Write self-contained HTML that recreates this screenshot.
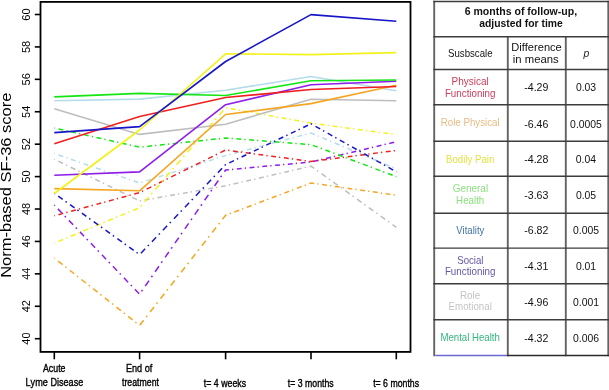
<!DOCTYPE html>
<html><head><meta charset="utf-8"><title>SF-36 chart</title>
<style>html,body{margin:0;padding:0;background:#fff;width:609px;height:390px;overflow:hidden}svg{display:block;will-change:transform}text{font-family:"Liberation Sans", sans-serif;font-kerning:none}</style>
</head><body>
<svg width="609" height="390" viewBox="0 0 609 390">
<rect x="0" y="0" width="609" height="390" fill="#fff"/>
<g fill="none" stroke-linejoin="round">
<path d="M54.30 159.20 L54.92 159.50 M58.36 161.19 L63.04 163.48 M65.99 164.93 L67.22 165.53 M70.67 167.22 L75.34 169.51 M78.30 170.96 L79.53 171.56 M82.98 173.25 L87.65 175.54 M90.61 176.99 L91.84 177.59 M95.28 179.28 L99.96 181.57 M102.91 183.02 L104.14 183.62 M107.59 185.31 L112.27 187.61 M115.22 189.05 L116.45 189.66 M119.90 191.34 L124.57 193.64 M127.53 195.08 L128.76 195.69 M132.20 197.38 L136.88 199.67 M139.84 200.96 L141.11 200.73 M144.67 200.10 L149.50 199.25 M152.55 198.71 L153.82 198.49 M157.38 197.86 L162.20 197.00 M165.25 196.47 L166.53 196.24 M170.08 195.61 L174.91 194.76 M177.96 194.22 L179.23 194.00 M182.79 193.37 L187.62 192.51 M190.67 191.97 L191.94 191.75 M195.50 191.12 L200.33 190.27 M203.37 189.73 L204.65 189.50 M208.20 188.87 L213.03 188.02 M216.08 187.48 L217.35 187.26 M220.91 186.63 L225.60 185.80 L225.74 185.77 M228.78 185.07 L230.04 184.78 M233.59 183.97 L238.40 182.86 M241.44 182.16 L242.71 181.87 M246.25 181.06 L251.07 179.96 M254.11 179.26 L255.37 178.97 M258.92 178.15 L263.73 177.05 M266.77 176.35 L268.04 176.06 M271.58 175.25 L276.39 174.14 M279.43 173.44 L280.70 173.15 M284.25 172.34 L289.06 171.24 M292.10 170.54 L293.36 170.25 M296.91 169.43 L301.72 168.33 M304.76 167.63 L306.03 167.34 M309.57 166.53 L311.00 166.20 L314.16 168.47 M317.01 170.50 L318.19 171.35 M321.50 173.72 L326.00 176.95 M328.84 178.98 L330.03 179.83 M333.34 182.20 L337.84 185.42 M340.68 187.46 L341.86 188.31 M345.18 190.68 L349.68 193.90 M352.52 195.94 L353.70 196.79 M357.02 199.16 L361.51 202.38 M364.35 204.42 L365.54 205.27 M368.85 207.64 L373.35 210.86 M376.19 212.90 L377.38 213.74 M380.69 216.12 L385.19 219.34 M388.03 221.38 L389.21 222.22 M392.53 224.60 L396.30 227.30" stroke="#bebebe" stroke-width="1.5"/>
<path d="M54.30 153.50 L54.93 153.72 M58.44 154.93 L63.20 156.58 M66.21 157.62 L67.46 158.05 M70.97 159.26 L75.73 160.91 M78.74 161.95 L79.99 162.39 M83.50 163.60 L88.26 165.25 M91.27 166.29 L92.53 166.72 M96.03 167.93 L100.80 169.58 M103.81 170.62 L105.06 171.05 M108.57 172.27 L113.33 173.91 M116.34 174.96 L117.59 175.39 M121.10 176.60 L125.86 178.25 M128.87 179.29 L130.12 179.72 M133.63 180.94 L138.40 182.58 M141.41 182.42 L142.67 182.02 M146.18 180.90 L150.96 179.38 M153.98 178.42 L155.23 178.02 M158.75 176.90 L163.53 175.38 M166.54 174.42 L167.80 174.01 M171.32 172.89 L176.10 171.37 M179.11 170.41 L180.37 170.01 M183.89 168.89 L188.66 167.37 M191.68 166.41 L192.94 166.01 M196.46 164.89 L201.23 163.36 M204.25 162.40 L205.51 162.00 M209.02 160.88 L213.80 159.36 M216.82 158.40 L218.07 158.00 M221.59 156.88 L225.60 155.60 L226.37 155.40 M229.40 154.59 L230.67 154.26 M234.20 153.32 L239.00 152.05 M242.03 151.25 L243.30 150.92 M246.83 149.98 L251.63 148.71 M254.66 147.91 L255.93 147.57 M259.46 146.64 L264.26 145.37 M267.29 144.57 L268.56 144.23 M272.09 143.30 L276.89 142.03 M279.92 141.22 L281.18 140.89 M284.72 139.95 L289.52 138.68 M292.55 137.88 L293.81 137.55 M297.35 136.61 L302.15 135.34 M305.18 134.54 L306.44 134.21 M309.98 133.27 L311.00 133.00 L314.72 134.56 M317.70 135.82 L318.94 136.34 M322.42 137.81 L327.14 139.79 M330.12 141.05 L331.37 141.57 M334.84 143.04 L339.56 145.02 M342.55 146.28 L343.79 146.80 M347.27 148.26 L351.99 150.25 M354.97 151.51 L356.21 152.03 M359.69 153.49 L364.41 155.48 M367.39 156.73 L368.64 157.26 M372.11 158.72 L376.84 160.71 M379.82 161.96 L381.06 162.49 M384.54 163.95 L389.26 165.94 M392.24 167.19 L393.48 167.71" stroke="#b4dcea" stroke-width="1.5"/>
<path d="M54.30 258.00 L54.88 258.46 M58.15 261.04 L62.58 264.54 M65.38 266.75 L66.54 267.67 M69.81 270.25 L74.24 273.76 M77.04 275.97 L78.20 276.89 M81.47 279.47 L85.90 282.97 M88.70 285.18 L89.86 286.10 M93.13 288.68 L97.56 292.18 M100.36 294.39 L101.53 295.32 M104.79 297.90 L109.22 301.40 M112.02 303.61 L113.19 304.53 M116.45 307.11 L120.88 310.61 M123.68 312.82 L124.85 313.74 M128.11 316.32 L132.54 319.82 M135.34 322.03 L136.51 322.96 M139.75 325.20 L143.68 320.17 M146.17 316.99 L147.20 315.67 M150.10 311.96 L154.03 306.92 M156.51 303.75 L157.55 302.42 M160.45 298.71 L164.38 293.68 M166.86 290.50 L167.90 289.18 M170.79 285.47 L174.72 280.43 M177.21 277.25 L178.24 275.93 M181.14 272.22 L185.07 267.19 M187.55 264.01 L188.59 262.68 M191.49 258.97 L195.42 253.94 M197.90 250.76 L198.94 249.44 M201.83 245.73 L205.76 240.69 M208.25 237.52 L209.28 236.19 M212.18 232.48 L216.11 227.45 M218.59 224.27 L219.63 222.94 M222.53 219.24 L225.60 215.30 L226.64 214.91 M229.63 213.77 L230.88 213.30 M234.38 211.98 L239.12 210.19 M242.12 209.05 L243.37 208.58 M246.87 207.26 L251.61 205.46 M254.61 204.33 L255.86 203.86 M259.35 202.53 L264.10 200.74 M267.10 199.61 L268.35 199.13 M271.84 197.81 L276.59 196.02 M279.58 194.88 L280.83 194.41 M284.33 193.09 L289.08 191.29 M292.07 190.16 L293.32 189.69 M296.82 188.36 L301.56 186.57 M304.56 185.44 L305.81 184.96 M309.31 183.64 L311.00 183.00 L314.11 183.44 M317.16 183.88 L318.44 184.06 M322.00 184.57 L326.84 185.27 M329.89 185.70 L331.17 185.88 M334.73 186.39 L339.57 187.09 M342.62 187.52 L343.89 187.70 M347.46 188.21 L352.30 188.91 M355.35 189.34 L356.62 189.53 M360.19 190.03 L365.02 190.73 M368.08 191.16 L369.35 191.35 M372.92 191.86 L377.75 192.55 M380.81 192.98 L382.08 193.17 M385.64 193.68 L390.48 194.37 M393.54 194.80 L394.81 194.99" stroke="#f5a623" stroke-width="1.5"/>
<path d="M54.30 205.10 L54.85 205.67 M57.93 208.89 L62.11 213.26 M64.75 216.01 L65.85 217.16 M68.93 220.38 L73.11 224.74 M75.74 227.50 L76.84 228.65 M79.92 231.87 L84.10 236.23 M86.74 238.99 L87.84 240.14 M90.92 243.35 L95.10 247.72 M97.74 250.47 L98.84 251.62 M101.92 254.84 L106.10 259.21 M108.74 261.96 L109.84 263.11 M112.92 266.33 L117.09 270.69 M119.73 273.45 L120.83 274.60 M123.91 277.81 L128.09 282.18 M130.73 284.94 L131.83 286.09 M134.91 289.30 L139.09 293.67 M141.52 291.43 L142.50 290.00 M145.28 286.00 L149.03 280.57 M151.41 277.15 L152.40 275.72 M155.17 271.72 L158.93 266.29 M161.30 262.86 L162.29 261.43 M165.06 257.43 L168.82 252.00 M171.20 248.57 L172.19 247.14 M174.96 243.14 L178.72 237.71 M181.09 234.28 L182.08 232.85 M184.85 228.85 L188.61 223.42 M190.98 219.99 L191.97 218.56 M194.74 214.56 L198.50 209.13 M200.88 205.70 L201.87 204.27 M204.64 200.27 L208.40 194.84 M210.77 191.41 L211.76 189.98 M214.53 185.98 L218.29 180.55 M220.67 177.13 L221.66 175.70 M224.43 171.70 L225.60 170.00 L228.93 169.69 M231.99 169.40 L233.27 169.28 M236.84 168.95 L241.68 168.49 M244.75 168.21 L246.02 168.09 M249.59 167.75 L254.44 167.30 M257.50 167.01 L258.77 166.89 M262.34 166.56 L267.19 166.10 M270.25 165.82 L271.52 165.70 M275.10 165.36 L279.94 164.91 M283.00 164.62 L284.28 164.50 M287.85 164.17 L292.69 163.71 M295.75 163.43 L297.03 163.31 M300.60 162.97 L305.45 162.52 M308.51 162.23 L309.78 162.11 M313.33 161.45 L318.14 160.31 M321.18 159.59 L322.45 159.29 M325.99 158.45 L330.80 157.31 M333.84 156.59 L335.10 156.29 M338.65 155.45 L343.46 154.31 M346.50 153.59 L347.76 153.29 M351.31 152.46 L356.12 151.32 M359.15 150.60 L360.42 150.30 M363.96 149.46 L368.77 148.32 M371.81 147.60 L373.08 147.30 M376.62 146.46 L381.43 145.32 M384.47 144.60 L385.73 144.30 M389.28 143.46 L394.09 142.32" stroke="#8e1ee8" stroke-width="1.5"/>
<path d="M54.30 215.80 L54.93 215.63 M58.47 214.67 L63.26 213.36 M66.29 212.54 L67.55 212.20 M71.09 211.23 L75.88 209.93 M78.91 209.11 L80.17 208.76 M83.71 207.80 L88.51 206.50 M91.53 205.67 L92.80 205.33 M96.33 204.37 L101.13 203.06 M104.16 202.24 L105.42 201.90 M108.95 200.94 L113.75 199.63 M116.78 198.81 L118.04 198.46 M121.57 197.50 L126.37 196.20 M129.40 195.37 L130.66 195.03 M134.20 194.07 L138.99 192.77 M141.96 191.43 L143.19 190.82 M146.63 189.12 L151.31 186.80 M154.26 185.34 L155.49 184.73 M158.93 183.03 L163.60 180.71 M166.55 179.25 L167.78 178.64 M171.23 176.93 L175.90 174.62 M178.85 173.16 L180.08 172.55 M183.52 170.84 L188.20 168.53 M191.15 167.07 L192.38 166.46 M195.82 164.75 L200.49 162.44 M203.45 160.97 L204.68 160.36 M208.12 158.66 L212.79 156.34 M215.74 154.88 L216.97 154.27 M220.42 152.57 L225.09 150.25 M228.13 150.34 L229.40 150.51 M232.97 150.99 L237.80 151.64 M240.86 152.06 L242.13 152.23 M245.70 152.71 L250.54 153.36 M253.59 153.77 L254.87 153.94 M258.43 154.42 L263.27 155.07 M266.33 155.48 L267.60 155.66 M271.17 156.14 L276.00 156.79 M279.06 157.20 L280.33 157.37 M283.90 157.85 L288.74 158.50 M291.79 158.91 L293.07 159.09 M296.63 159.57 L301.47 160.22 M304.53 160.63 L305.80 160.80 M309.37 161.28 L311.00 161.50 L314.20 161.09 M317.26 160.69 L318.54 160.53 M322.10 160.07 L326.94 159.44 M330.00 159.05 L331.27 158.89 M334.84 158.43 L339.68 157.80 M342.73 157.41 L344.01 157.24 M347.57 156.78 L352.41 156.16 M355.47 155.77 L356.74 155.60 M360.31 155.14 L365.15 154.52 M368.21 154.12 L369.48 153.96 M373.05 153.50 L377.89 152.87 M380.94 152.48 L382.22 152.32 M385.78 151.86 L390.62 151.23 M393.68 150.84 L394.95 150.67" stroke="#ee2020" stroke-width="1.5"/>
<path d="M54.30 128.00 L54.93 128.14 M58.48 128.94 L63.29 130.02 M66.33 130.71 L67.60 130.99 M71.15 131.79 L75.96 132.88 M79.00 133.56 L80.27 133.85 M83.82 134.64 L88.63 135.73 M91.67 136.41 L92.94 136.70 M96.48 137.50 L101.30 138.58 M104.34 139.26 L105.61 139.55 M109.15 140.35 L113.97 141.43 M117.01 142.11 L118.27 142.40 M121.82 143.20 L126.63 144.28 M129.67 144.97 L130.94 145.25 M134.49 146.05 L139.30 147.13 M142.36 146.90 L143.63 146.77 M147.20 146.39 L152.05 145.87 M155.11 145.54 L156.38 145.40 M159.95 145.02 L164.79 144.50 M167.85 144.18 L169.13 144.04 M172.70 143.66 L177.54 143.14 M180.60 142.81 L181.87 142.68 M185.44 142.30 L190.29 141.78 M193.35 141.45 L194.62 141.31 M198.19 140.93 L203.03 140.41 M206.09 140.09 L207.37 139.95 M210.94 139.57 L215.78 139.05 M218.84 138.72 L220.11 138.59 M223.68 138.21 L225.60 138.00 L228.53 138.23 M231.59 138.46 L232.87 138.56 M236.44 138.84 L241.29 139.21 M244.35 139.45 L245.63 139.55 M249.20 139.82 L254.05 140.20 M257.11 140.43 L258.38 140.53 M261.96 140.81 L266.80 141.18 M269.87 141.42 L271.14 141.52 M274.71 141.80 L279.56 142.17 M282.62 142.41 L283.90 142.51 M287.47 142.78 L292.32 143.16 M295.38 143.39 L296.66 143.49 M300.23 143.77 L305.08 144.14 M308.14 144.38 L309.41 144.48 M312.95 145.33 L317.69 147.12 M320.69 148.25 L321.94 148.72 M325.44 150.03 L330.18 151.82 M333.18 152.95 L334.43 153.42 M337.93 154.73 L342.67 156.52 M345.67 157.65 L346.92 158.12 M350.42 159.43 L355.16 161.22 M358.16 162.35 L359.41 162.82 M362.91 164.13 L367.65 165.92 M370.65 167.05 L371.90 167.52 M375.40 168.83 L380.15 170.62 M383.14 171.75 L384.39 172.22 M387.89 173.53 L392.64 175.32 M395.63 176.45 L396.30 176.70" stroke="#14e614" stroke-width="1.5"/>
<path d="M54.30 243.10 L54.92 242.84 M58.40 241.40 L63.13 239.44 M66.11 238.20 L67.35 237.68 M70.84 236.24 L75.56 234.28 M78.54 233.04 L79.79 232.52 M83.27 231.08 L87.99 229.12 M90.98 227.88 L92.22 227.36 M95.70 225.92 L100.43 223.96 M103.41 222.72 L104.65 222.20 M108.13 220.76 L112.86 218.80 M115.84 217.56 L117.09 217.04 M120.57 215.60 L125.29 213.64 M128.27 212.40 L129.52 211.88 M133.00 210.44 L137.72 208.48 M140.55 206.59 L141.62 205.35 M144.61 201.88 L148.66 197.16 M151.22 194.18 L152.29 192.94 M155.28 189.47 L159.33 184.75 M161.90 181.77 L162.96 180.53 M165.95 177.06 L170.01 172.34 M172.57 169.36 L173.64 168.12 M176.62 164.65 L180.68 159.93 M183.24 156.95 L184.31 155.71 M187.30 152.24 L191.35 147.52 M193.91 144.54 L194.98 143.30 M197.97 139.83 L202.02 135.11 M204.59 132.14 L205.65 130.89 M208.64 127.42 L212.70 122.70 M215.26 119.73 L216.33 118.48 M219.31 115.01 L223.37 110.29 M225.99 107.77 L227.26 108.00 M230.82 108.64 L235.65 109.51 M238.70 110.06 L239.97 110.29 M243.53 110.93 L248.35 111.80 M251.40 112.35 L252.67 112.58 M256.23 113.22 L261.06 114.09 M264.11 114.64 L265.38 114.87 M268.93 115.51 L273.76 116.38 M276.81 116.93 L278.08 117.16 M281.64 117.81 L286.47 118.68 M289.52 119.23 L290.79 119.45 M294.34 120.10 L299.17 120.97 M302.22 121.52 L303.49 121.75 M307.05 122.39 L311.00 123.10 L311.88 123.22 M314.93 123.63 L316.21 123.80 M319.77 124.28 L324.61 124.93 M327.67 125.35 L328.94 125.52 M332.50 126.00 L337.34 126.65 M340.40 127.06 L341.67 127.24 M345.24 127.72 L350.08 128.37 M353.13 128.78 L354.41 128.95 M357.97 129.43 L362.81 130.08 M365.86 130.50 L367.14 130.67 M370.70 131.15 L375.54 131.80 M378.60 132.21 L379.87 132.39 M383.44 132.87 L388.28 133.52 M391.33 133.93 L392.60 134.10 M396.17 134.58 L396.30 134.60" stroke="#f2f21a" stroke-width="1.5"/>
<path d="M54.30 193.40 L54.89 193.82 M58.21 196.20 L62.70 199.43 M65.54 201.47 L66.73 202.32 M70.04 204.69 L74.54 207.92 M77.38 209.96 L78.56 210.81 M81.87 213.18 L86.37 216.41 M89.21 218.45 L90.40 219.30 M93.71 221.67 L98.21 224.90 M101.05 226.94 L102.23 227.79 M105.54 230.17 L110.04 233.39 M112.88 235.43 L114.06 236.28 M117.38 238.66 L121.87 241.88 M124.72 243.92 L125.90 244.77 M129.21 247.15 L133.71 250.37 M136.55 252.41 L137.73 253.26 M140.94 253.19 L145.12 248.82 M147.76 246.06 L148.86 244.91 M151.94 241.69 L156.11 237.32 M158.75 234.56 L159.85 233.41 M162.93 230.19 L167.10 225.82 M169.74 223.06 L170.84 221.90 M173.92 218.68 L178.10 214.31 M180.73 211.55 L181.83 210.40 M184.91 207.18 L189.09 202.81 M191.73 200.05 L192.83 198.90 M195.90 195.68 L200.08 191.31 M202.72 188.55 L203.82 187.39 M206.90 184.17 L211.07 179.80 M213.71 177.04 L214.81 175.89 M217.89 172.67 L222.06 168.30 M224.70 165.54 L225.60 164.60 L225.83 164.49 M229.28 162.84 L233.96 160.60 M236.92 159.19 L238.16 158.60 M241.61 156.95 L246.29 154.71 M249.25 153.30 L250.48 152.71 M253.94 151.06 L258.62 148.82 M261.58 147.41 L262.81 146.82 M266.26 145.17 L270.95 142.93 M273.91 141.52 L275.14 140.93 M278.59 139.28 L283.28 137.04 M286.24 135.63 L287.47 135.04 M290.92 133.39 L295.61 131.15 M298.57 129.74 L299.80 129.15 M303.25 127.50 L307.94 125.26 M310.89 123.85 L311.00 123.80 L312.11 124.43 M315.52 126.34 L320.14 128.95 M323.07 130.59 L324.28 131.27 M327.69 133.19 L332.31 135.79 M335.24 137.44 L336.45 138.12 M339.86 140.04 L344.48 142.64 M347.40 144.29 L348.62 144.97 M352.03 146.89 L356.65 149.49 M359.57 151.13 L360.79 151.82 M364.20 153.74 L368.82 156.34 M371.74 157.98 L372.96 158.67 M376.37 160.58 L380.99 163.19 M383.91 164.83 L385.13 165.51 M388.54 167.43 L393.16 170.03 M396.08 171.68 L396.30 171.80" stroke="#1616c8" stroke-width="1.5"/>
<polyline points="54.3,108.8 139.6,134.4 225.6,124.2 311.0,99.2 396.3,100.8" stroke="#bebebe" stroke-width="1.6"/>
<polyline points="54.3,100.8 139.6,99.1 225.6,90.3 311.0,76.5 396.3,90.8" stroke="#b4dcea" stroke-width="1.6"/>
<polyline points="54.3,188.6 139.6,190.8 225.6,114.5 311.0,103.6 396.3,85.2" stroke="#f5a623" stroke-width="1.6"/>
<polyline points="54.3,175.2 139.6,171.9 225.6,104.7 311.0,84.8 396.3,81.2" stroke="#8e1ee8" stroke-width="1.6"/>
<polyline points="54.3,143.8 139.6,116.5 225.6,97.5 311.0,89.5 396.3,86.5" stroke="#ee2020" stroke-width="1.6"/>
<polyline points="54.3,96.9 139.6,93.4 225.6,95.5 311.0,80.8 396.3,80.0" stroke="#14e614" stroke-width="1.6"/>
<polyline points="54.3,193.5 139.6,130.0 225.6,53.8 311.0,54.6 396.3,52.6" stroke="#f2f21a" stroke-width="1.6"/>
<polyline points="54.3,132.6 139.6,126.6 225.6,61.5 311.0,14.6 396.3,21.2" stroke="#1616c8" stroke-width="1.6"/>
</g>
<g fill="none" stroke="#000" stroke-width="1.8">
<rect x="40.5" y="1.9" width="370" height="350" />
</g>
<g stroke="#000" stroke-width="1.6">
<line x1="34.8" y1="338.70" x2="40.5" y2="338.70"/>
<line x1="34.8" y1="306.28" x2="40.5" y2="306.28"/>
<line x1="34.8" y1="273.86" x2="40.5" y2="273.86"/>
<line x1="34.8" y1="241.44" x2="40.5" y2="241.44"/>
<line x1="34.8" y1="209.02" x2="40.5" y2="209.02"/>
<line x1="34.8" y1="176.60" x2="40.5" y2="176.60"/>
<line x1="34.8" y1="144.18" x2="40.5" y2="144.18"/>
<line x1="34.8" y1="111.76" x2="40.5" y2="111.76"/>
<line x1="34.8" y1="79.34" x2="40.5" y2="79.34"/>
<line x1="34.8" y1="46.92" x2="40.5" y2="46.92"/>
<line x1="34.8" y1="14.50" x2="40.5" y2="14.50"/>
<line x1="54.30" y1="351.9" x2="54.30" y2="359.3"/>
<line x1="139.60" y1="351.9" x2="139.60" y2="359.3"/>
<line x1="225.60" y1="351.9" x2="225.60" y2="359.3"/>
<line x1="311.00" y1="351.9" x2="311.00" y2="359.3"/>
<line x1="396.30" y1="351.9" x2="396.30" y2="359.3"/>
</g>
<text transform="translate(30.20 344.65) rotate(-90) scale(0.9691 1)" font-size="11.20" fill="#000">40</text>
<text transform="translate(30.20 312.23) rotate(-90) scale(0.9796 1)" font-size="11.20" fill="#000">42</text>
<text transform="translate(30.20 279.81) rotate(-90) scale(0.9602 1)" font-size="11.20" fill="#000">44</text>
<text transform="translate(30.20 247.39) rotate(-90) scale(0.9736 1)" font-size="11.20" fill="#000">46</text>
<text transform="translate(30.20 214.97) rotate(-90) scale(0.9732 1)" font-size="11.20" fill="#000">48</text>
<text transform="translate(30.20 182.74) rotate(-90) scale(0.9851 1)" font-size="11.20" fill="#000">50</text>
<text transform="translate(30.20 150.33) rotate(-90) scale(0.9960 1)" font-size="11.20" fill="#000">52</text>
<text transform="translate(30.20 117.90) rotate(-90) scale(0.9759 1)" font-size="11.20" fill="#000">54</text>
<text transform="translate(30.20 85.48) rotate(-90) scale(0.9898 1)" font-size="11.20" fill="#000">56</text>
<text transform="translate(30.20 53.06) rotate(-90) scale(0.9894 1)" font-size="11.20" fill="#000">58</text>
<text transform="translate(30.20 20.77) rotate(-90) scale(0.9955 1)" font-size="11.20" fill="#000">60</text>
<text transform="translate(11.00 277.86) rotate(-90) scale(1.1164 1)" font-size="14.80" fill="#000">Norm-based SF-36 score</text>
<text transform="translate(42.98 372.40) scale(0.7859 1)" font-size="11.20" fill="#000" stroke="#000" stroke-width="0.38">Acute</text>
<text transform="translate(25.55 386.20) scale(0.8153 1)" font-size="11.20" fill="#000" stroke="#000" stroke-width="0.37">Lyme Disease</text>
<text transform="translate(125.95 372.40) scale(0.8133 1)" font-size="11.20" fill="#000" stroke="#000" stroke-width="0.37">End of</text>
<text transform="translate(121.97 386.20) scale(0.7820 1)" font-size="11.20" fill="#000" stroke="#000" stroke-width="0.38">treatment</text>
<text transform="translate(203.87 387.00) scale(0.7846 1)" font-size="11.20" fill="#000" stroke="#000" stroke-width="0.38">t= 4 weeks</text>
<text transform="translate(287.87 387.00) scale(0.7793 1)" font-size="11.20" fill="#000" stroke="#000" stroke-width="0.38">t= 3 months</text>
<text transform="translate(373.17 387.00) scale(0.7810 1)" font-size="11.20" fill="#000" stroke="#000" stroke-width="0.38">t= 6 months</text>
<g stroke="#636363" stroke-width="1.9" fill="none">
<line x1="434.2" y1="0.8" x2="434.2" y2="356.2"/>
<line x1="608.3" y1="0.8" x2="608.3" y2="356.2"/>
<line x1="507.8" y1="36.8" x2="507.8" y2="356.2"/>
<line x1="565.8" y1="36.8" x2="565.8" y2="356.2"/>
</g>
<g stroke="#3c3c3c" stroke-width="1.4" fill="none">
<line x1="433.3" y1="1.5" x2="609" y2="1.5"/>
<line x1="433.3" y1="36.8" x2="609" y2="36.8"/>
<line x1="433.3" y1="69.5" x2="609" y2="69.5"/>
<line x1="433.3" y1="104.8" x2="609" y2="104.8"/>
<line x1="433.3" y1="141.2" x2="609" y2="141.2"/>
<line x1="433.3" y1="176.2" x2="609" y2="176.2"/>
<line x1="433.3" y1="213.2" x2="609" y2="213.2"/>
<line x1="433.3" y1="248.1" x2="609" y2="248.1"/>
<line x1="433.3" y1="283.8" x2="609" y2="283.8"/>
<line x1="433.3" y1="319.7" x2="609" y2="319.7"/>
<line x1="507.0" y1="355.5" x2="609" y2="355.5" stroke="#2a2a2a"/>
</g>
<line x1="435.3" y1="355.5" x2="507.0" y2="355.5" stroke="#6a6ad2" stroke-width="1.4"/>
<text transform="translate(464.66 14.90) scale(0.9960 1)" font-size="10.60" fill="#111" font-weight="bold">6 months of follow-up,</text>
<text transform="translate(479.20 26.60) scale(0.9796 1)" font-size="10.60" fill="#111" font-weight="bold">adjusted for time</text>
<text transform="translate(448.01 56.90) scale(0.9470 1)" font-size="10.20" fill="#111">Susbscale</text>
<text transform="translate(511.19 50.90) scale(1.0885 1)" font-size="10.20" fill="#111">Difference</text>
<text transform="translate(512.84 63.10) scale(1.1106 1)" font-size="10.20" fill="#111">in means</text>
<text transform="translate(583.56 57.00) scale(1.0386 1)" font-size="10.00" fill="#222" font-style="italic">p</text>
<text transform="translate(451.58 84.50) scale(0.9818 1)" font-size="10.20" fill="#cc3c5a">Physical</text>
<text transform="translate(444.90 96.50) scale(0.9602 1)" font-size="10.20" fill="#cc3c5a">Functioning</text>
<text transform="translate(524.23 91.20) scale(1.0200 1)" font-size="10.40" fill="#111">-4.29</text>
<text transform="translate(575.90 91.20) scale(1.0000 1)" font-size="10.40" fill="#111">0.03</text>
<text transform="translate(440.75 125.90) scale(0.9540 1)" font-size="10.20" fill="#e6bc84">Role Physical</text>
<text transform="translate(524.21 127.70) scale(1.0200 1)" font-size="10.40" fill="#111">-6.46</text>
<text transform="translate(570.11 127.70) scale(1.0000 1)" font-size="10.40" fill="#111">0.0005</text>
<text transform="translate(446.06 162.80) scale(0.9469 1)" font-size="10.20" fill="#e2e244">Bodily Pain</text>
<text transform="translate(524.21 163.10) scale(1.0200 1)" font-size="10.40" fill="#111">-4.28</text>
<text transform="translate(575.83 163.10) scale(1.0000 1)" font-size="10.40" fill="#111">0.04</text>
<text transform="translate(452.65 191.60) scale(0.9774 1)" font-size="10.20" fill="#8ce07e">General</text>
<text transform="translate(456.10 203.60) scale(0.9576 1)" font-size="10.20" fill="#8ce07e">Health</text>
<text transform="translate(524.21 198.70) scale(1.0200 1)" font-size="10.40" fill="#111">-3.63</text>
<text transform="translate(575.89 198.70) scale(1.0000 1)" font-size="10.40" fill="#111">0.05</text>
<text transform="translate(456.21 233.60) scale(0.9374 1)" font-size="10.20" fill="#4474a2">Vitality</text>
<text transform="translate(524.24 234.40) scale(1.0200 1)" font-size="10.40" fill="#111">-6.82</text>
<text transform="translate(573.00 234.40) scale(1.0000 1)" font-size="10.40" fill="#111">0.005</text>
<text transform="translate(457.26 263.50) scale(0.9461 1)" font-size="10.20" fill="#6656a4">Social</text>
<text transform="translate(444.90 275.20) scale(0.9602 1)" font-size="10.20" fill="#6656a4">Functioning</text>
<text transform="translate(524.23 269.60) scale(1.0200 1)" font-size="10.40" fill="#111">-4.31</text>
<text transform="translate(575.93 269.60) scale(1.0000 1)" font-size="10.40" fill="#111">0.01</text>
<text transform="translate(459.94 299.10) scale(0.9701 1)" font-size="10.20" fill="#c4c4c4">Role</text>
<text transform="translate(448.60 310.20) scale(0.9535 1)" font-size="10.20" fill="#c4c4c4">Emotional</text>
<text transform="translate(524.21 305.60) scale(1.0200 1)" font-size="10.40" fill="#111">-4.96</text>
<text transform="translate(573.04 305.60) scale(1.0000 1)" font-size="10.40" fill="#111">0.001</text>
<text transform="translate(440.46 340.60) scale(0.9457 1)" font-size="10.20" fill="#34b67e">Mental Health</text>
<text transform="translate(524.24 342.00) scale(1.0200 1)" font-size="10.40" fill="#111">-4.32</text>
<text transform="translate(573.01 342.00) scale(1.0000 1)" font-size="10.40" fill="#111">0.006</text>
</svg>
</body></html>
